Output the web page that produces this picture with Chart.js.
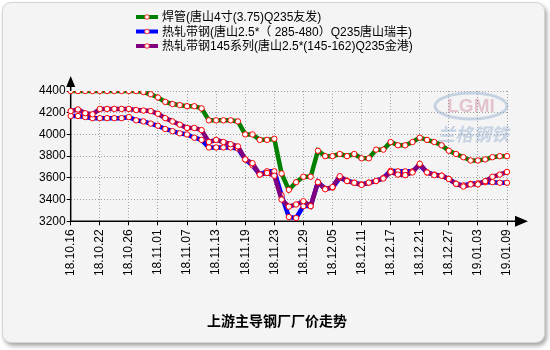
<!DOCTYPE html>
<html>
<head>
<meta charset="utf-8">
<script src="https://cdn.jsdelivr.net/npm/chart.js@4.4.0/dist/chart.umd.min.js"></script>
<style>
  body { margin: 0; background: #fff; }
  #wrap { position: relative; width: 550px; height: 350px; }
  #card { position: absolute; left: 2px; top: 2px; width: 541px; height: 339px; background: #f4f4f4; border: 1px solid #d4d4d4; border-radius: 9px; box-shadow: 2px 3px 4px rgba(0,0,0,0.35); }
  canvas { position: absolute; left: 0; top: 0; }
</style>
</head>
<body>
<div id="wrap"><div id="card"></div><canvas id="priceChart" width="550" height="350"></canvas></div>
<script>
// trading days 18.10.16 - 19.01.09
const dates = [
  '18.10.16','18.10.17','18.10.18','18.10.19','18.10.22','18.10.23','18.10.24','18.10.25','18.10.26','18.10.29','18.10.30','18.10.31',
  '18.11.01','18.11.02','18.11.05','18.11.06','18.11.07','18.11.08','18.11.09','18.11.12','18.11.13','18.11.14','18.11.15','18.11.16',
  '18.11.19','18.11.20','18.11.21','18.11.22','18.11.23','18.11.26','18.11.27','18.11.28','18.11.29','18.11.30',
  '18.12.03','18.12.04','18.12.05','18.12.06','18.12.07','18.12.10','18.12.11','18.12.12','18.12.13','18.12.14','18.12.17','18.12.18',
  '18.12.19','18.12.20','18.12.21','18.12.24','18.12.25','18.12.26','18.12.27','18.12.28','18.12.31',
  '19.01.02','19.01.03','19.01.04','19.01.07','19.01.08','19.01.09'
];
const shownTicks = ['18.10.16','18.10.22','18.10.26','18.11.01','18.11.07','18.11.13','18.11.19','18.11.23',
  '18.11.29','18.12.05','18.12.11','18.12.17','18.12.21','18.12.27','19.01.03','19.01.09'];
const yTicks = [3200, 3400, 3600, 3800, 4000, 4200, 4400];

const seriesNames = ['焊管(唐山4寸(3.75)Q235友发)', '热轧带钢(唐山2.5*（ 285-480）Q235唐山瑞丰)', '热轧带钢145系列(唐山2.5*(145-162)Q235金港)'];
const weldedPipe = [4400,4400,4400,4400,4400,4400,4400,4400,4400,4400,4390,4370,4340,4300,4280,4270,4260,4260,4240,
  4130,4130,4130,4130,4120,4000,4000,3950,3950,3960,3640,3490,3560,3610,3610,3850,3800,3800,3820,3800,3820,
  3780,3780,3860,3860,3930,3900,3900,3930,3970,3950,3930,3900,3850,3820,3790,3760,3760,3770,3790,3800,3800];
const stripRuifeng = [4170,4170,4160,4150,4150,4150,4150,4150,4160,4130,4120,4100,4080,4050,4030,4010,4000,3970,3950,
  3880,3880,3880,3880,3870,3770,3715,3630,3660,3660,3440,3240,3230,3340,3340,3560,3500,3510,3600,3575,3555,
  3540,3555,3570,3600,3665,3660,3660,3660,3720,3650,3630,3620,3590,3545,3530,3545,3550,3560,3560,3555,3555];
const strip145 = [4215,4230,4195,4185,4235,4235,4235,4235,4235,4225,4220,4215,4190,4150,4120,4090,4060,4060,4040,
  3930,3950,3930,3910,3890,3770,3735,3630,3645,3620,3400,3335,3355,3385,3340,3560,3495,3515,3615,3570,3555,
  3535,3556,3572,3594,3655,3630,3625,3650,3730,3650,3625,3620,3590,3545,3520,3540,3540,3570,3610,3630,3655];
const lineColors = ['#008000', '#0000ff', '#800080'];

const FONT = '"Liberation Sans", "Noto Sans CJK SC", sans-serif';

const axisArrows = {
  id: 'axisArrows',
  beforeDatasetsDraw(chart) {
    const {ctx, chartArea: a} = chart;
    ctx.save();
    // watermark
    ctx.globalAlpha = 0.4;
    ctx.strokeStyle = '#7f9fc8';
    ctx.lineWidth = 3;
    ctx.beginPath();
    ctx.ellipse(471, 106, 36, 13, 0, 0, Math.PI * 2);
    ctx.stroke();
    ctx.font = 'bold 19px ' + FONT;
    ctx.textAlign = 'center';
    ctx.textBaseline = 'middle';
    ctx.fillStyle = '#c87890';
    ctx.fillText('LGMI', 471, 107);
    ctx.fillStyle = '#7f9fc8';
    ctx.font = 'italic bold 18px "Noto Sans CJK SC", sans-serif';
    ctx.fillText('兰格钢铁', 473, 134);
    ctx.globalAlpha = 1;
    // axes with arrows
    ctx.strokeStyle = '#000';
    ctx.fillStyle = '#000';
    ctx.lineWidth = 1.5;
    ctx.beginPath();
    ctx.moveTo(a.left, a.bottom);
    ctx.lineTo(a.left, a.top - 8);
    ctx.moveTo(a.left, a.bottom);
    ctx.lineTo(a.right + 10, a.bottom);
    ctx.stroke();
    ctx.beginPath();
    ctx.moveTo(a.left, a.top - 15);
    ctx.lineTo(a.left - 4.5, a.top - 4);
    ctx.lineTo(a.left + 4.5, a.top - 4);
    ctx.closePath();
    ctx.fill();
    ctx.beginPath();
    ctx.moveTo(a.right + 21, a.bottom);
    ctx.lineTo(a.right + 8, a.bottom - 5.5);
    ctx.lineTo(a.right + 8, a.bottom + 5.5);
    ctx.closePath();
    ctx.fill();
    ctx.restore();
  },
  afterDraw(chart) {
    const ctx = chart.ctx;
    ctx.save();
    ctx.font = '12px ' + FONT;
    ctx.textBaseline = 'middle';
    chart.data.datasets.forEach((ds, i) => {
      const y = 17 + i * 14.5;
      ctx.strokeStyle = ds.borderColor;
      ctx.lineWidth = 4;
      ctx.beginPath();
      ctx.moveTo(136, y);
      ctx.lineTo(158, y);
      ctx.stroke();
      ctx.beginPath();
      ctx.arc(147, y, 2.3, 0, Math.PI * 2);
      ctx.fillStyle = '#fff';
      ctx.fill();
      ctx.strokeStyle = '#ff3030';
      ctx.lineWidth = 1;
      ctx.stroke();
      ctx.fillStyle = '#000';
      ctx.fillText(ds.label, 162, y + 1);
    });
    ctx.font = 'bold 14px "Noto Sans CJK SC", sans-serif';
    ctx.textAlign = 'center';
    ctx.fillText('上游主导钢厂厂价走势', 277, 321);
    ctx.restore();
  }
};

function makeSet(label, data, color, order) {
  return {
    label: label,
    data: data,
    borderColor: color,
    borderWidth: 4.5,
    pointRadius: 2.7,
    pointBorderWidth: 1,
    pointBorderColor: '#ff0000',
    pointBackgroundColor: '#ffffff',
    tension: 0,
    order: order
  };
}

new Chart(document.getElementById('priceChart'), {
  type: 'line',
  data: {
    labels: dates,
    datasets: [
      makeSet(seriesNames[0], weldedPipe, lineColors[0], 0),
      makeSet(seriesNames[1], stripRuifeng, lineColors[1], 2),
      makeSet(seriesNames[2], strip145, lineColors[2], 1)
    ]
  },
  options: {
    responsive: false,
    animation: false,
    layout: { padding: { left: 38, right: 43, top: 91, bottom: 70 } },
    plugins: { legend: { display: false }, tooltip: { enabled: false }, title: { display: false } },
    scales: {
      x: {
        offset: false,
        grid: { color: '#a0a0a0', tickColor: '#000', tickLength: 4, tickBorderDash: [] },
        border: { display: false, dash: [1, 2] },
        ticks: {
          autoSkip: false,
          maxRotation: 90,
          minRotation: 90,
          padding: 4,
          color: '#000',
          font: { family: FONT, size: 12 },
          callback: function (val) {
            const lab = this.getLabelForValue(val);
            return shownTicks.includes(lab) ? lab : null;
          }
        }
      },
      y: {
        min: yTicks[0],
        max: yTicks[yTicks.length - 1],
        grid: { color: '#a0a0a0', tickColor: '#000', tickLength: 4, tickBorderDash: [] },
        border: { display: false, dash: [1, 2] },
        afterBuildTicks: (scale) => { scale.ticks = yTicks.map(v => ({ value: v })); },
        ticks: { padding: 1, color: '#000', font: { family: FONT, size: 12 }, callback: (v) => String(v) }
      }
    }
  },
  plugins: [axisArrows]
});
</script>
</body>
</html>
